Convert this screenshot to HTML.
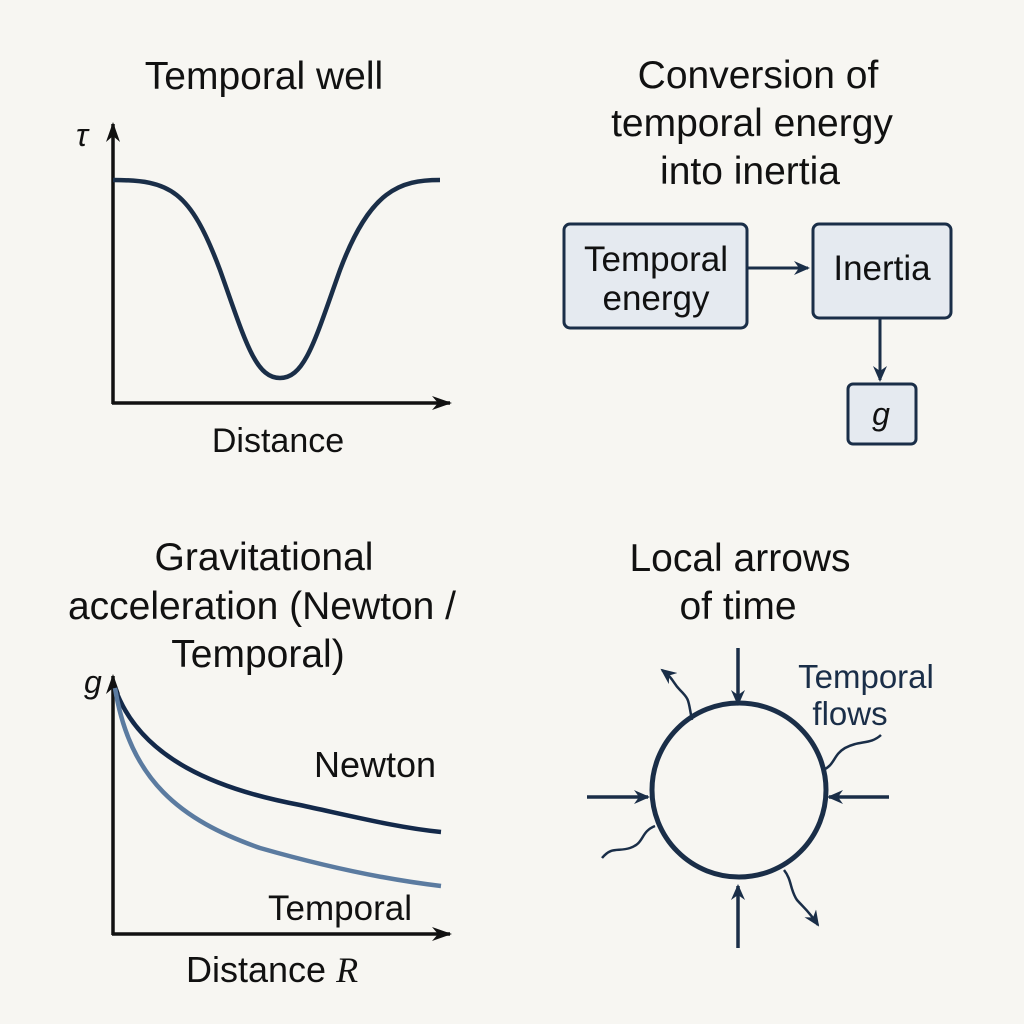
<!DOCTYPE html>
<html><head><style>
html,body{margin:0;padding:0;background:#f7f6f2;}
svg{display:block;}
text{font-family:"Liberation Sans",sans-serif;fill:#111;}
</style></head><body>
<svg width="1024" height="1024" viewBox="0 0 1024 1024" xmlns="http://www.w3.org/2000/svg">
<rect width="1024" height="1024" fill="#f7f6f2"/>
<defs>
<marker id="an" markerWidth="16" markerHeight="14" refX="14" refY="7" orient="auto" markerUnits="userSpaceOnUse"><path d="M0,0 L16,7 L0,14 L5,7 Z" fill="#1a2e48"/></marker>
<marker id="as" markerWidth="20" markerHeight="14" refX="18" refY="7" orient="auto" markerUnits="userSpaceOnUse"><path d="M0,0 L20,7 L0,14 L6,7 Z" fill="#111"/></marker>
</defs>

<!-- Top left -->
<text x="264" y="89" font-size="39" text-anchor="middle">Temporal well</text>
<text x="76" y="146" font-size="32" font-family="Liberation Serif" font-style="italic">τ</text>
<line x1="113" y1="404" x2="113" y2="124" stroke="#111" stroke-width="3.5" marker-end="url(#as)"/>
<line x1="112" y1="403" x2="450" y2="403" stroke="#111" stroke-width="3.5" marker-end="url(#as)"/>
<path d="M113,180 C170,180 190,190 220,270 C245,340 255,378 280,378 C305,378 315,340 340,270 C370,190 400,180 440,180" fill="none" stroke="#1a2e48" stroke-width="4.5"/>
<text x="278" y="452" font-size="34" text-anchor="middle">Distance</text>

<!-- Top right -->
<text x="758" y="88" font-size="39" text-anchor="middle">Conversion of</text>
<text x="752" y="136" font-size="39" text-anchor="middle">temporal energy</text>
<text x="750" y="184" font-size="39" text-anchor="middle">into inertia</text>
<rect x="564" y="224" width="183" height="104" rx="6" fill="#e5eaf0" stroke="#1a2e48" stroke-width="3"/>
<text x="656" y="271" font-size="35" text-anchor="middle">Temporal</text>
<text x="656" y="310" font-size="35" text-anchor="middle">energy</text>
<rect x="813" y="224" width="138" height="94" rx="6" fill="#e5eaf0" stroke="#1a2e48" stroke-width="3"/>
<text x="882" y="280" font-size="35" text-anchor="middle">Inertia</text>
<line x1="747" y1="268" x2="808" y2="268" stroke="#1a2e48" stroke-width="3" marker-end="url(#an)"/>
<line x1="880" y1="318" x2="880" y2="380" stroke="#1a2e48" stroke-width="3" marker-end="url(#an)"/>
<rect x="848" y="384" width="68" height="60" rx="5" fill="#e5eaf0" stroke="#1a2e48" stroke-width="3"/>
<text x="881" y="425" font-size="32" text-anchor="middle" font-family="Liberation Serif" font-style="italic">g</text>

<!-- Bottom left -->
<text x="264" y="570" font-size="39" text-anchor="middle">Gravitational</text>
<text x="262" y="619" font-size="39" text-anchor="middle">acceleration (Newton /</text>
<text x="258" y="667" font-size="39" text-anchor="middle">Temporal)</text>
<text x="84" y="693" font-size="32" font-family="Liberation Serif" font-style="italic">g</text>
<line x1="113" y1="935" x2="113" y2="676" stroke="#111" stroke-width="3.5" marker-end="url(#as)"/>
<line x1="112" y1="934" x2="450" y2="934" stroke="#111" stroke-width="3.5" marker-end="url(#as)"/>
<path d="M115,688 C140,760 220,790 300,805 C360,818 400,828 441,832" fill="none" stroke="#13294a" stroke-width="4.5"/>
<path d="M115,688 C130,780 180,820 260,848 C330,868 390,880 441,886" fill="none" stroke="#5b7ba0" stroke-width="4.5"/>
<text x="375" y="777" font-size="36" text-anchor="middle">Newton</text>
<text x="340" y="920" font-size="35" text-anchor="middle">Temporal</text>
<text x="186" y="982" font-size="36">Distance <tspan font-family="Liberation Serif" font-style="italic">R</tspan></text>

<!-- Bottom right -->
<text x="740" y="571" font-size="39" text-anchor="middle">Local arrows</text>
<text x="738" y="619" font-size="39" text-anchor="middle">of time</text>
<text x="866" y="688" font-size="33" text-anchor="middle" style="fill:#1a2e48">Temporal</text>
<text x="850" y="725" font-size="33" text-anchor="middle" style="fill:#1a2e48">flows</text>
<circle cx="739" cy="790" r="87" fill="none" stroke="#1a2e48" stroke-width="5"/>
<line x1="738" y1="648" x2="738" y2="704" stroke="#1a2e48" stroke-width="3.5" marker-end="url(#an)"/>
<line x1="738" y1="948" x2="738" y2="886" stroke="#1a2e48" stroke-width="3.5" marker-end="url(#an)"/>
<line x1="587" y1="797" x2="648" y2="797" stroke="#1a2e48" stroke-width="3.5" marker-end="url(#an)"/>
<line x1="889" y1="797" x2="829" y2="797" stroke="#1a2e48" stroke-width="3.5" marker-end="url(#an)"/>
<path d="M692,720 C688,700 690,700 680,690 C672,682 675,680 662,670" fill="none" stroke="#1a2e48" stroke-width="2.5" marker-end="url(#an)"/>
<path d="M784,870 C792,880 790,890 797,900 C804,908 808,910 818,925" fill="none" stroke="#1a2e48" stroke-width="2.5" marker-end="url(#an)"/>
<path d="M823,770 C835,765 833,755 845,748 C860,740 870,745 881,735" fill="none" stroke="#1a2e48" stroke-width="2.5"/>
<path d="M655,826 C640,832 645,843 630,848 C618,852 612,846 602,858" fill="none" stroke="#1a2e48" stroke-width="2.5"/>
</svg>
</body></html>
